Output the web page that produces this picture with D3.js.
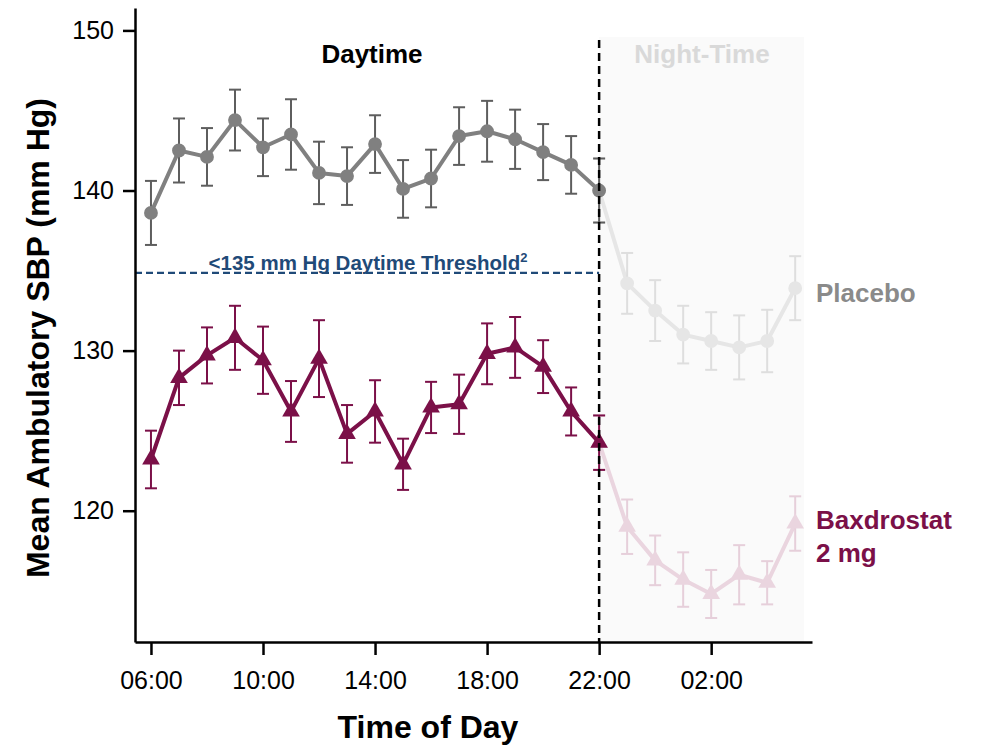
<!DOCTYPE html>
<html>
<head>
<meta charset="utf-8">
<script src="https://cdn.jsdelivr.net/npm/d3@7"></script>
<style>
  body { margin: 0; background: #fff; }
  svg { display: block; font-family: "Liberation Sans", Arial, sans-serif; }
</style>
</head>
<body>
<svg id="chart" width="981" height="746"></svg>
<script>
// --- data (hour of day; 24..29 = 00:00..05:00 next day) ---
const hours = [6, 7, 8, 9, 10, 11, 12, 13, 14, 15, 16, 17, 18, 19, 20, 21, 22,
               23, 24, 25, 26, 27, 28, 29];
const placeboMean = [138.6, 142.5, 142.1, 144.4, 142.7, 143.5, 141.1, 140.9, 142.9, 140.1,
                     140.75, 143.4, 143.7, 143.2, 142.4, 141.6, 140.0,
                     134.2, 132.5, 131.0, 130.6, 130.2, 130.6, 133.9];
const placeboSE = [2.0, 2.0, 1.8, 1.9, 1.8, 2.2, 1.95, 1.8, 1.8, 1.8, 1.8, 1.8, 1.9, 1.85,
                   1.75, 1.8, 2.0, 1.9, 1.9, 1.8, 1.8, 2.0, 1.95, 2.0];
const baxMean = [123.2, 128.3, 129.7, 130.8, 129.4, 126.2, 129.5, 124.8, 126.2, 122.9,
                 126.45, 126.65, 129.8, 130.2, 129.0, 126.2, 124.25,
                 119.0, 116.9, 115.7, 114.8, 116.0, 115.5, 119.2];
const baxSE = [1.8, 1.7, 1.75, 2.0, 2.1, 1.9, 2.4, 1.8, 1.95, 1.6, 1.6, 1.85, 1.9, 1.9,
               1.65, 1.5, 1.7, 1.7, 1.55, 1.7, 1.5, 1.85, 1.35, 1.7];
const xTickHours = [6, 10, 14, 18, 22, 26];
const xTickLabels = ["06:00", "10:00", "14:00", "18:00", "22:00", "02:00"];
const yTicks = [120, 130, 140, 150];
const nightStart = 22;
const threshold = 134.85;

const svg = d3.select("#chart");

const x = d3.scaleLinear().domain([5.43, 29.6]).range([135, 812]);
const y = d3.scaleLinear().domain([111.8, 151.4]).range([642, 8]);

// night-time shading
svg.append("rect")
  .attr("x", x(nightStart)).attr("y", 37)
  .attr("width", 804 - x(nightStart)).attr("height", 642 - 37)
  .attr("fill", "#fafafa");

// threshold line
svg.append("line")
  .attr("x1", x.range()[0]).attr("x2", x(nightStart))
  .attr("y1", y(threshold)).attr("y2", y(threshold))
  .attr("stroke", "#1f4a78").attr("stroke-width", 2.2)
  .attr("stroke-dasharray", "7,4");

const thrText = svg.append("text")
  .attr("x", 368).attr("y", y(threshold) - 3)
  .attr("text-anchor", "middle")
  .attr("fill", "#1f4a78")
  .style("font-size", "20.5px").style("font-weight", "bold")
  .text("<135 mm Hg Daytime Threshold");
thrText.append("tspan")
  .attr("dy", -8).style("font-size", "13px").text("2");

// series drawing
const pts = (means, ses) => hours.map((h, i) => ({ h, m: means[i], se: ses[i] }));

function drawSeries(data, opts) {
  const day = data.filter(d => d.h <= nightStart);
  const night = data.filter(d => d.h >= nightStart);
  const line = d3.line().x(d => x(d.h)).y(d => y(d.m));

  const part = (subset, col, errCol, markerCol) => {
    const g = svg.append("g");
    g.append("path").datum(subset)
      .attr("d", line).attr("fill", "none")
      .attr("stroke", col).attr("stroke-width", 4)
      .attr("stroke-linejoin", "round");
    const eb = g.selectAll(".eb").data(subset).enter().append("g");
    eb.append("line")
      .attr("x1", d => x(d.h)).attr("x2", d => x(d.h))
      .attr("y1", d => y(d.m - d.se)).attr("y2", d => y(d.m + d.se))
      .attr("stroke", errCol).attr("stroke-width", 2);
    [1, -1].forEach(s => {
      eb.append("line")
        .attr("x1", d => x(d.h) - 6).attr("x2", d => x(d.h) + 6)
        .attr("y1", d => y(d.m + s * d.se)).attr("y2", d => y(d.m + s * d.se))
        .attr("stroke", errCol).attr("stroke-width", 2);
    });
    g.selectAll(".mk").data(subset).enter().append("path")
      .attr("transform", d => `translate(${x(d.h)},${y(d.m)})`)
      .attr("d", d3.symbol().type(opts.symbol).size(opts.size)())
      .attr("fill", markerCol);
  };

  part(night, opts.nightLine, opts.nightErr, opts.nightLine);
  part(day, opts.dayLine, opts.dayErr, opts.dayLine);
}

drawSeries(pts(placeboMean, placeboSE), {
  symbol: d3.symbolCircle, size: 150,
  dayLine: "#808080", dayErr: "#5e5e5e",
  nightLine: "#e6e6e6", nightErr: "#dedede"
});
drawSeries(pts(baxMean, baxSE), {
  symbol: d3.symbolTriangle, size: 135,
  dayLine: "#7b1048", dayErr: "#7b1048",
  nightLine: "#ead5df", nightErr: "#e6cfda"
});

// day/night divider
svg.append("line")
  .attr("x1", x(nightStart)).attr("x2", x(nightStart))
  .attr("y1", 40).attr("y2", 642)
  .attr("stroke", "#000").attr("stroke-width", 2.5)
  .attr("stroke-dasharray", "8,5");

// axes
const xAxis = svg.append("g").attr("transform", "translate(0,642)")
  .call(d3.axisBottom(x).tickValues(xTickHours)
    .tickFormat((d, i) => xTickLabels[i]).tickSize(13).tickPadding(16).tickSizeOuter(0));
const yAxis = svg.append("g").attr("transform", "translate(135,0)")
  .call(d3.axisLeft(y).tickValues(yTicks).tickSize(12).tickPadding(9).tickSizeOuter(0));

[xAxis, yAxis].forEach(a => {
  a.select(".domain").attr("stroke", "#000").attr("stroke-width", 2.5);
  a.selectAll(".tick line").attr("stroke", "#000").attr("stroke-width", 2.5);
  a.selectAll(".tick text").attr("fill", "#000")
    .style("font-size", "25px").style("font-family", "'Liberation Sans', Arial, sans-serif");
});

// axis titles
svg.append("text")
  .attr("x", 428).attr("y", 738).attr("text-anchor", "middle")
  .style("font-size", "32px").style("font-weight", "bold")
  .text("Time of Day");
svg.append("text")
  .attr("transform", "translate(49,338) rotate(-90)")
  .attr("text-anchor", "middle")
  .style("font-size", "32px").style("font-weight", "bold")
  .text("Mean Ambulatory SBP (mm Hg)");

// region labels
svg.append("text")
  .attr("x", 372).attr("y", 63).attr("text-anchor", "middle")
  .style("font-size", "26px").style("font-weight", "bold")
  .text("Daytime");
svg.append("text")
  .attr("x", 702).attr("y", 63).attr("text-anchor", "middle")
  .attr("fill", "#d9d9d9")
  .style("font-size", "26px").style("font-weight", "bold")
  .text("Night-Time");

// series labels
svg.append("text")
  .attr("x", 816).attr("y", 302).attr("fill", "#8a8a8a")
  .style("font-size", "26px").style("font-weight", "bold")
  .text("Placebo");
const baxLabel = svg.append("text")
  .attr("x", 816).attr("y", 529).attr("fill", "#7b1048")
  .style("font-size", "26px").style("font-weight", "bold");
baxLabel.append("tspan").attr("x", 816).text("Baxdrostat");
baxLabel.append("tspan").attr("x", 816).attr("dy", 33).text("2 mg");
</script>
</body>
</html>
